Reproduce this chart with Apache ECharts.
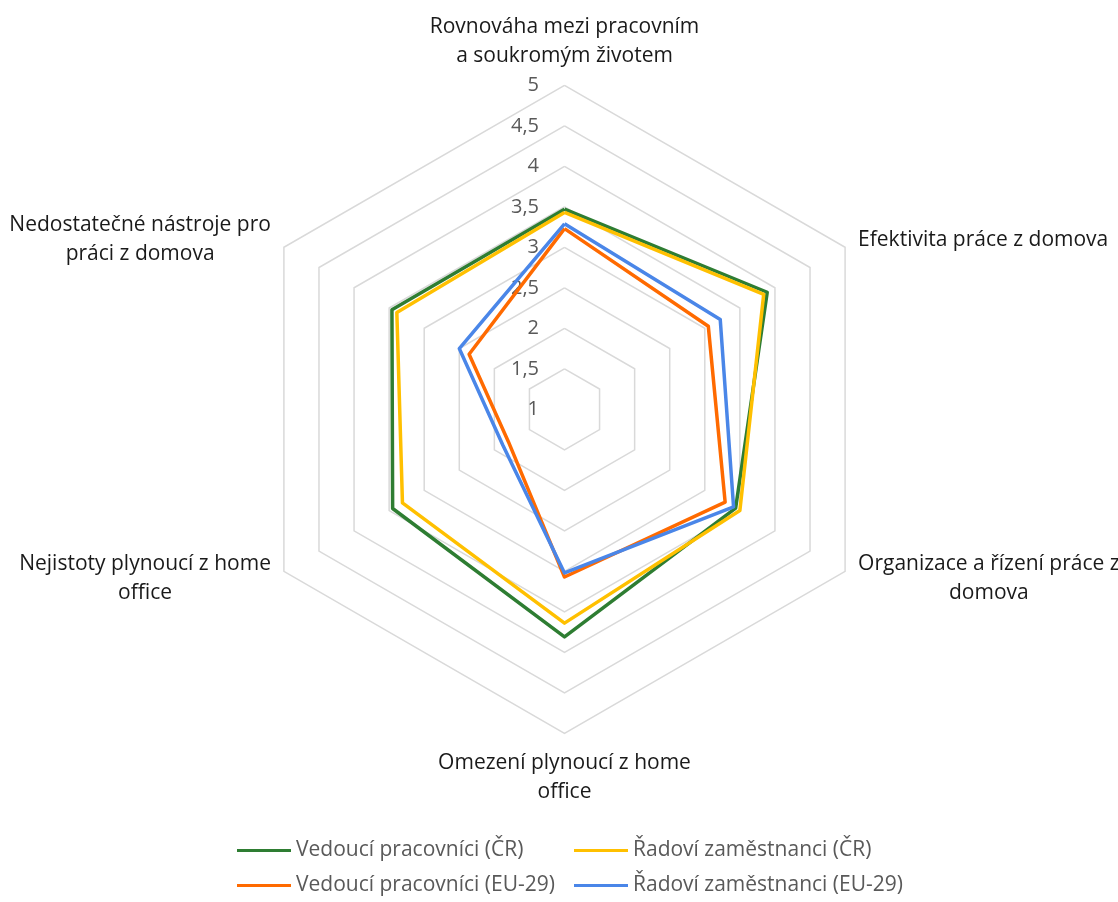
<!DOCTYPE html>
<html>
<head>
<meta charset="utf-8">
<script src="https://cdn.jsdelivr.net/npm/echarts@6/dist/echarts.min.js"></script>
<style>
  html, body { margin: 0; padding: 0; background: #fff; }
  #chart { width: 1118px; height: 902px; }
</style>
</head>
<body>
<div id="chart"></div>
<script>
// radar lays the axes out counter-clockwise from the top
var categories = [
  "Rovnováha mezi pracovním\na soukromým životem",
  "Nedostatečné nástroje pro\npráci z domova",
  "Nejistoty plynoucí z home\noffice",
  "Omezení plynoucí z home\noffice",
  "Organizace a řízení práce z\ndomova",
  "Efektivita práce z domova"
];

var seriesNames = [
  "Vedoucí pracovníci (ČR)",
  "Řadoví zaměstnanci (ČR)",
  "Vedoucí pracovníci (EU-29)",
  "Řadoví zaměstnanci (EU-29)"
];

var vedouciCR = [3.47, 3.46, 3.45, 3.81, 3.44, 3.89];
var radoviCR = [3.43, 3.39, 3.31, 3.64, 3.50, 3.84];
var vedouciEU = [3.23, 2.36, 1.80, 3.07, 3.29, 3.05];
var radoviEU = [3.29, 2.50, 1.88, 3.02, 3.41, 3.22];

var axisMin = 1, axisMax = 5, axisStep = 0.5;

var colors = ["#2E7D32", "#FFC000", "#FF6A00", "#4A86E8"];
var font = "'Open Sans', 'Liberation Sans', sans-serif";

var cx = 564.5, cy = 409.3, R = 324;

var chart = echarts.init(document.getElementById("chart"));

var values = [vedouciCR, radoviCR, vedouciEU, radoviEU];

var legendPos = [[237, 840], [574, 840], [237, 875], [574, 875]];

var option = {
  animation: false,
  color: colors,
  radar: {
    center: [cx, cy],
    radius: R,
    startAngle: 90,
    shape: "polygon",
    splitNumber: (axisMax - axisMin) / axisStep,
    indicator: categories.map(function (c) {
      return { name: c, min: axisMin, max: axisMax };
    }),
    axisName: {
      formatter: function (name) {
        return name.split("\n").map(function (s) { return "{c|" + s + "}"; }).join("\n");
      },
      rich: {
        c: { align: "center", fontSize: 21, fontFamily: font, color: "#1a1a1a", lineHeight: 29 }
      }
    },
    nameGap: 15,
    axisLine: { show: false },
    axisTick: { show: false },
    axisLabel: { show: false },
    splitLine: { lineStyle: { color: "#D9D9D9", width: 1.5 } },
    splitArea: { show: false }
  },
  // value labels up the top axis, drawn by a plain value axis
  grid: { left: cx - 17.5, top: cy - R, width: 10, height: R },
  xAxis: { type: "value", show: false },
  yAxis: {
    type: "value",
    min: axisMin,
    max: axisMax,
    interval: axisStep,
    axisLine: { show: false },
    axisTick: { show: false },
    splitLine: { show: false },
    axisLabel: {
      margin: 8,
      fontSize: 20,
      fontFamily: font,
      color: "#595959",
      formatter: function (v) { return String(v).replace(".", ","); }
    }
  },
  legend: seriesNames.map(function (n, i) {
    return {
      data: [n],
      left: legendPos[i][0],
      top: legendPos[i][1],
      padding: 0,
      icon: "rect",
      itemWidth: 54,
      itemHeight: 3,
      selectedMode: false,
      textStyle: { fontSize: 21, fontFamily: font, color: "#595959" }
    };
  }),
  series: seriesNames.map(function (n, i) {
    return {
      type: "radar",
      name: n,
      symbol: "none",
      silent: true,
      z: 2 + i,
      lineStyle: { width: 3.5, color: colors[i] },
      itemStyle: { color: colors[i] },
      data: [{ name: n, value: values[i] }]
    };
  })
};

chart.setOption(option);
</script>
</body>
</html>
